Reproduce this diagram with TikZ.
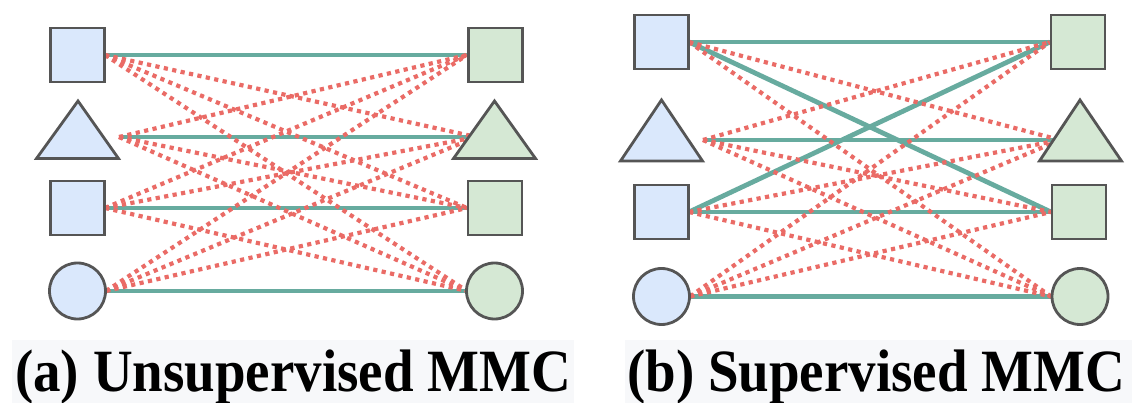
\documentclass[tikz,border=0pt]{standalone}
\usepackage{fontspec}
\setmainfont{Liberation Serif}
\definecolor{bluefill}{HTML}{DAE8FC}
\definecolor{greenfill}{HTML}{D5E8D4}
\definecolor{shapeedge}{HTML}{555555}
\definecolor{tealline}{HTML}{67AB9F}
\definecolor{redline}{HTML}{EA6B66}
\definecolor{capbg}{HTML}{F7F8FA}
\tikzset{
  base/.style={draw=shapeedge, line width=2.8pt, inner sep=0pt},
  bsq/.style={base, fill=bluefill, rectangle, minimum size=54pt},
  gsq/.style={base, fill=greenfill, rectangle, minimum size=54pt},
  bci/.style={base, fill=bluefill, circle, minimum size=56pt},
  gci/.style={base, fill=greenfill, circle, minimum size=56pt},
  btri/.style={draw=shapeedge, line width=2.8pt, fill=bluefill, line join=miter},
  gtri/.style={draw=shapeedge, line width=2.8pt, fill=greenfill, line join=miter},
  match/.style={draw=tealline, line width=4.8pt},
  reddot/.style={draw=redline, line width=4.2pt, dash pattern=on 4.2pt off 4.4pt},
  caption/.style={anchor=base west, inner sep=0pt, font=\fontsize{60}{60}\selectfont\bfseries},
}
\begin{document}
\begin{tikzpicture}[x=1pt,y=-1pt]
\useasboundingbox (0,0) rectangle (1143,403);
% caption backgrounds
\fill[capbg] (12,340) rectangle (574,403);
\fill[capbg] (625,340) rectangle (1132,403);

% ---------- panel (a) connection points ----------
\coordinate (aL1) at (105,55);
\coordinate (aL2) at (119,137);
\coordinate (aL3) at (105,208);
\coordinate (aL4) at (106,291);
\coordinate (aR1) at (467,55);
\coordinate (aR2) at (476,137);
\coordinate (aR3) at (467,208);
\coordinate (aR4) at (467,291);
% green matches
\foreach \i in {1,...,4} {\draw[match] (aL\i) -- (aR\i);}
% red dotted
\foreach \i in {1,...,4} {\foreach \j in {1,...,4} {
  \ifnum\i=\j\else \draw[reddot] (aL\i) -- (aR\j);\fi}}

% ---------- panel (b) connection points ----------
\coordinate (bL1) at (689,42);
\coordinate (bL2) at (703,140);
\coordinate (bL3) at (689,212);
\coordinate (bL4) at (690,296.5);
\coordinate (bR1) at (1050,42);
\coordinate (bR2) at (1060,140);
\coordinate (bR3) at (1051,212);
\coordinate (bR4) at (1051,296.5);
\foreach \i/\j in {1/1,1/3,2/2,3/1,3/3,4/4} {\draw[match] (bL\i) -- (bR\j);}
\foreach \i/\j in {1/2,1/4,2/1,2/3,2/4,3/2,3/4,4/1,4/2,4/3} {\draw[reddot] (bL\i) -- (bR\j);}

% ---------- shapes panel (a) ----------
\node[bsq] (a1) at (77.5,55) {};
\draw[btri] (78,101) coordinate (atl) -- (118.5,158.5) -- (36.5,158.5) -- cycle;
\node[bsq] (a3) at (77.5,208) {};
\node[bci] (a4) at (77.5,291) {};
\node[gsq] (ar1) at (495.5,55) {};
\draw[gtri] (494.5,101) coordinate (atr) -- (535.5,158.5) -- (453.5,158.5) -- cycle;
\node[gsq] (ar3) at (495,208) {};
\node[gci] (ar4) at (494.5,291) {};

% ---------- shapes panel (b) ----------
\node[bsq] (b1) at (661.5,42) {};
\draw[btri] (661.5,100) coordinate (btl) -- (702.5,161) -- (620.5,161) -- cycle;
\node[bsq] (b3) at (661.5,212) {};
\node[bci] (b4) at (661.5,296.5) {};
\node[gsq] (br1) at (1078,42) {};
\draw[gtri] (1080,100) coordinate (btr) -- (1121.5,161) -- (1039.5,161) -- cycle;
\node[gsq] (br3) at (1079,212) {};
\node[gci] (br4) at (1080,296.5) {};

% ---------- captions ----------
\node[caption] (capa) at (15,391) {\scalebox{0.916}[1]{(a) Unsupervised MMC}};
\node[caption] (capb) at (627,391) {\scalebox{0.916}[1]{(b) Supervised MMC}};
\end{tikzpicture}
\end{document}
